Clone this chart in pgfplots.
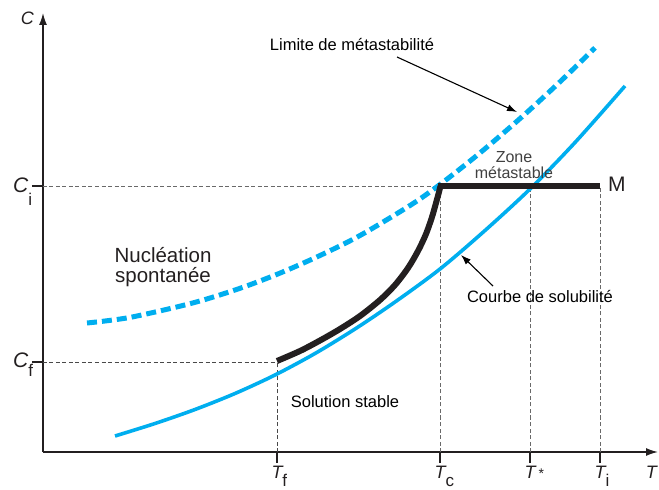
\documentclass[border=0pt]{standalone}
\usepackage{fontspec}
\setmainfont{Liberation Sans}
\usepackage{pgfplots}
\pgfplotsset{compat=1.18}
\usetikzlibrary{arrows.meta}
\definecolor{cyanC}{RGB}{0,174,239}
\definecolor{blk}{RGB}{35,31,32}
\definecolor{dgrey}{RGB}{105,105,105}
\definecolor{zgrey}{RGB}{64,64,64}
\begin{document}
\begin{tikzpicture}
\useasboundingbox (-43pt,-38pt) rectangle (616pt,452pt);
\begin{axis}[
  scale only axis, width=615pt, height=439pt,
  xmin=0, xmax=615, ymin=0, ymax=439,
  axis lines=left,
  axis line style={line width=1.4pt, draw=blk, -{Latex[length=12pt,width=8pt]}},
  xtick={234,397,487,557}, ytick={90,266},
  xticklabel=\empty, yticklabel=\empty,
  tick align=outside, major tick length=11pt,
  tick style={line width=1.4pt, draw=blk},
  clip=false,
]
% helper dashed lines
\addplot[dgrey, line width=0.8pt, dash pattern=on 4pt off 2.5pt] coordinates {(0,266) (397,266)};
\addplot[dgrey!70!black, line width=0.8pt, dash pattern=on 4pt off 2.5pt] coordinates {(0,90) (234,90)};
\addplot[dgrey!70!black, line width=0.8pt, dash pattern=on 4pt off 2.5pt] coordinates {(234,0) (234,90)};
\addplot[dgrey, line width=0.8pt, dash pattern=on 4pt off 2.5pt] coordinates {(397,0) (397,266)};
\addplot[dgrey, line width=0.8pt, dash pattern=on 4pt off 2.5pt] coordinates {(487,0) (487,266)};
\addplot[dgrey, line width=0.8pt, dash pattern=on 4pt off 2.5pt] coordinates {(557,0) (557,266)};
% solubility curve
\addplot[cyanC, line width=3.6pt, smooth] coordinates {
(72,16) (112,28.5) (152,42.5) (192,58.5) (232,77) (272,98.5) (312,123) (352,150) (397,183) (442,221.5) (487,263) (532,309.5) (582,366)};
% metastability limit
\addplot[cyanC, line width=5pt, smooth, dash pattern=on 10pt off 5pt] coordinates {
(44,129) (87,134.6) (150,149.1) (197,163.7) (237,178.9) (277,196.5) (317,216.5) (367,246.5) (397,267.5) (437,299.1) (479,335.2) (517,370.2) (552,404.2)};
% black path
\addplot[blk, line width=6pt, smooth] coordinates {
(234,91) (257,101) (277,111.5) (297,123) (317,136) (337,152) (352,167) (365,184) (375,201) (383,218) (389,235) (393,249) (396,260) (397.5,266)};
\addplot[blk, line width=6pt] coordinates {(394.5,266) (557,266)};
% axis labels
\node[anchor=base, inner sep=0, text=blk, font=\fontsize{18}{18}\selectfont\itshape] at (axis cs:-15.5,427) {C};
\node[anchor=base west, inner sep=0, text=blk] at (axis cs:-30,259) {\fontsize{21}{21}\selectfont\itshape C\upshape\raisebox{-13pt}{\fontsize{17}{17}\selectfont i}};
\node[anchor=base west, inner sep=0, text=blk] at (axis cs:-30,84) {\fontsize{21}{21}\selectfont\itshape C\upshape\raisebox{-9pt}{\fontsize{17}{17}\selectfont f}};
\node[anchor=base, inner sep=0, text=blk] at (axis cs:234,-26) {\fontsize{18}{18}\selectfont\itshape T\upshape\rlap{\raisebox{-9pt}{\fontsize{17}{17}\selectfont f}}};
\node[anchor=base, inner sep=0, text=blk] at (axis cs:397,-26) {\fontsize{18}{18}\selectfont\itshape T\upshape\rlap{\raisebox{-9pt}{\fontsize{17}{17}\selectfont c}}};
\node[anchor=base, inner sep=0, text=blk] at (axis cs:487,-26) {\fontsize{18}{18}\selectfont\itshape T\upshape\rlap{\,\fontsize{14}{14}\selectfont *}};
\node[anchor=base, inner sep=0, text=blk] at (axis cs:557,-26) {\fontsize{18}{18}\selectfont\itshape T\upshape\rlap{\raisebox{-9pt}{\fontsize{17}{17}\selectfont i}}};
\node[anchor=base east, inner sep=0, text=blk] at (axis cs:614,-26) {\fontsize{18}{18}\selectfont\itshape T};
\node[anchor=base west, inner sep=0, text=blk] at (axis cs:565,260) {\fontsize{21}{21}\selectfont M};
% annotations
\node[anchor=base, inner sep=0, font=\fontsize{16.5}{18}\selectfont] at (axis cs:309,401) {Limite de métastabilité};
\draw[line width=1.1pt, -{Latex[length=10pt,width=7pt]}] (axis cs:354,395) -- (axis cs:474,340);
\node[anchor=base, inner sep=0, font=\fontsize{16.5}{18}\selectfont] at (axis cs:497,149) {Courbe de solubilité};
\draw[line width=1.1pt, -{Latex[length=10pt,width=7pt]}] (axis cs:450,166) -- (axis cs:418,197);
\node[anchor=base, inner sep=0, font=\fontsize{16.5}{18}\selectfont] at (axis cs:302,45) {Solution stable};
\node[anchor=base, inner sep=0, text=blk, font=\fontsize{20.5}{20}\selectfont] at (axis cs:120,189) {Nucléation};
\node[anchor=base, inner sep=0, text=blk, font=\fontsize{20.5}{20}\selectfont] at (axis cs:120,169.5) {spontanée};
\node[anchor=base, inner sep=0, text=zgrey, font=\fontsize{16}{16}\selectfont] at (axis cs:471,289.3) {Zone};
\node[anchor=base, inner sep=0, text=zgrey, font=\fontsize{16}{16}\selectfont] at (axis cs:471,273.7) {métastable};
\end{axis}
\end{tikzpicture}
\end{document}
